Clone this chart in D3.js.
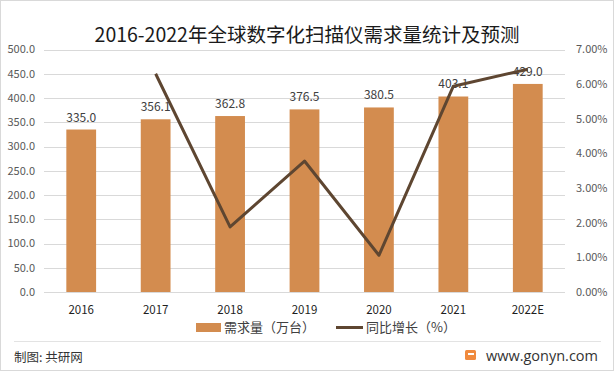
<!DOCTYPE html>
<html><head><meta charset="utf-8">
<script src="https://cdn.jsdelivr.net/npm/d3@7"></script>
<style>body{margin:0;background:#fff;}svg{display:block;}</style>
</head><body>
<svg id="c" width="614" height="371"></svg>
<script>
const categories = ["2016","2017","2018","2019","2020","2021","2022E"];
const demand = [335.0, 356.1, 362.8, 376.5, 380.5, 403.1, 429.0];
const growth = [null, 6.30, 1.88, 3.78, 1.06, 5.94, 6.43];
const leftTicks = [0,50,100,150,200,250,300,350,400,450,500];
const rightTicks = [0,1,2,3,4,5,6,7];
const title = "2016-2022年全球数字化扫描仪需求量统计及预测";

const svg = d3.select("#c");
const font = "'Noto Sans CJK SC','Noto Sans',sans-serif";
const W = 614, H = 371;
const m = {l:44, r:565, t:49.5, b:292};

svg.append("rect").attr("x",0.5).attr("y",0.5).attr("width",W-1).attr("height",H-1)
  .attr("fill","#fff").attr("stroke","#d9d9d9");

const x = d3.scaleBand().domain(categories).range([m.l, m.r]).paddingInner(0.6).paddingOuter(0.3);
const yL = d3.scaleLinear().domain([0,500]).range([m.b, m.t]);
const yR = d3.scaleLinear().domain([0,7]).range([m.b, m.t]);

// gridlines
svg.append("g").selectAll("line").data(leftTicks).join("line")
  .attr("x1",m.l).attr("x2",m.r).attr("y1",d=>Math.round(yL(d))+0.5).attr("y2",d=>Math.round(yL(d))+0.5)
  .attr("stroke","#d9d9d9").attr("stroke-width",1);

// left axis labels
svg.append("g").selectAll("text").data(leftTicks).join("text")
  .attr("x",35).attr("y",d=>yL(d)).attr("dy","0.35em").attr("text-anchor","end")
  .attr("font-family",font).attr("font-size",11).attr("fill","#595959")
  .text(d=>d.toFixed(1));

// right axis labels
svg.append("g").selectAll("text").data(rightTicks).join("text")
  .attr("x",576).attr("y",d=>yR(d)).attr("dy","0.35em").attr("text-anchor","start")
  .attr("font-family",font).attr("font-size",11).attr("fill","#595959")
  .text(d=>d.toFixed(2)+"%");

// bars
svg.append("g").selectAll("rect").data(demand).join("rect")
  .attr("x",(d,i)=>x(categories[i])).attr("width",x.bandwidth())
  .attr("y",d=>yL(d)).attr("height",d=>m.b-yL(d))
  .attr("fill","#D38C4F");

// bar labels
svg.append("g").selectAll("text").data(demand).join("text")
  .attr("x",(d,i)=>x(categories[i])+x.bandwidth()/2).attr("y",d=>yL(d)-8)
  .attr("text-anchor","middle").attr("font-family",font).attr("font-size",12).attr("fill","#404040")
  .text(d=>d.toFixed(1));

// line
const pts = growth.map((g,i)=>({g,c:categories[i]})).filter(p=>p.g!==null);
svg.append("path").datum(pts)
  .attr("d",d3.line().x(p=>x(p.c)+x.bandwidth()/2).y(p=>yR(p.g)))
  .attr("fill","none").attr("stroke","#5E4631").attr("stroke-width",3).attr("stroke-linejoin","round");

// x labels
svg.append("g").selectAll("text").data(categories).join("text")
  .attr("x",d=>x(d)+x.bandwidth()/2).attr("y",314).attr("text-anchor","middle")
  .attr("font-family",font).attr("font-size",11.5).attr("fill","#1f1f1f")
  .text(d=>d);

// title
svg.append("text").attr("x",307).attr("y",42).attr("text-anchor","middle")
  .attr("font-family",font).attr("font-size",19.5).attr("fill","#1a1a1a").text(title);

// legend
svg.append("rect").attr("x",196).attr("y",323).attr("width",25).attr("height",9).attr("fill","#D38C4F");
svg.append("text").attr("x",224).attr("y",332).attr("font-family",font).attr("font-size",13).attr("fill","#404040").text("需求量（万台）");
svg.append("line").attr("x1",336).attr("x2",363).attr("y1",327.5).attr("y2",327.5).attr("stroke","#5E4631").attr("stroke-width",3);
svg.append("text").attr("x",366).attr("y",332).attr("font-family",font).attr("font-size",13).attr("fill","#404040").text("同比增长（%）");

// footer
svg.append("line").attr("x1",14).attr("x2",601).attr("y1",341.5).attr("y2",341.5).attr("stroke","#e3e3e3");
svg.append("text").attr("x",14).attr("y",362).attr("font-family",font).attr("font-size",12.5).attr("fill","#333").text("制图: 共研网");
svg.append("rect").attr("x",465).attr("y",350).attr("width",11).attr("height",10).attr("rx",1.5).attr("fill","#F08A3E");
svg.append("rect").attr("x",468).attr("y",353).attr("width",6).attr("height",2).attr("fill","#fff");
svg.append("text").attr("x",598).attr("y",361).attr("text-anchor","end").attr("font-family","'Open Sans','Noto Sans',sans-serif").attr("font-size",14.5).attr("fill","#333").text("www.gonyn.com");
</script>
</body></html>
